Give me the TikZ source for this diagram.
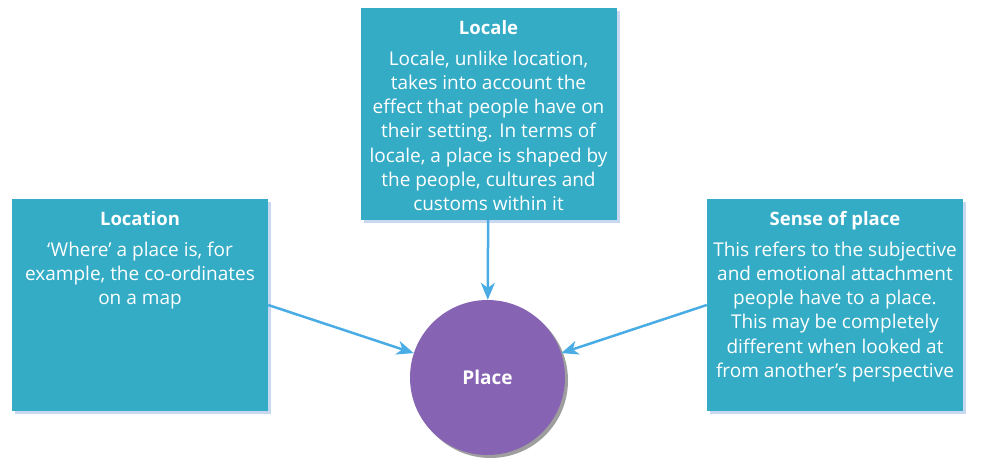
\documentclass[tikz,border=0pt]{standalone}
\usepackage{fontspec}
\setmainfont{Open Sans}
\usetikzlibrary{arrows.meta, positioning, shadows}
\usepackage{xcolor}

\definecolor{boxteal}{RGB}{53,172,198}
\definecolor{boxshade}{RGB}{200,216,240}
\definecolor{placepurple}{RGB}{135,99,180}
\definecolor{linkblue}{RGB}{74,172,228}

% title and body of one box, set from the top
\newcommand{\boxtext}[2]{\parbox[t][198pt][t]{244pt}{\centering
  \vspace*{5pt}{\fontsize{18.5}{24}\selectfont\bfseries #1\par}
  \vspace{7pt}\fontsize{19}{24.2}\selectfont #2}}

\tikzset{
  infobox/.style={fill=boxteal, text=white, inner xsep=6pt, inner ysep=6pt,
    minimum width=256pt, minimum height=212pt,
    drop shadow={shadow xshift=3pt, shadow yshift=-3pt, fill=boxshade, opacity=1}},
  placenode/.style={circle, fill=placepurple, text=white, minimum size=155pt,
    font=\fontsize{19}{22}\selectfont\bfseries,
    drop shadow={shadow xshift=3pt, shadow yshift=-3pt, fill=black!38, opacity=1}},
  link/.style={draw=linkblue, line width=2.5pt, -{Stealth[length=17pt, width=14pt, inset=5pt]}}
}

\begin{document}
\begin{tikzpicture}[x=1pt, y=1pt]
  \useasboundingbox (0,0) rectangle (987,471);

  \node[placenode] (place) at (487.5,93.5) {Place};

  \node[infobox] (locale) at (488.5,357) {\boxtext{Locale}{Locale, unlike location,\\
    takes into account the\\ effect that people have on\\ their setting. In terms of\\
    locale, a place is shaped by\\ the people, cultures and\\ customs within it}};

  \node[infobox] (location) at (140,166) {\boxtext{Location}{‘Where’ a place is, for\\
    example, the co-ordinates\\ on a map}};

  \node[infobox] (sense) at (835,166) {\boxtext{Sense of place}{This refers to the subjective\\
    and emotional attachment\\ people have to a place.\\ This may be completely\\
    different when looked at\\ from another’s perspective}};

  \draw[link] (locale) -- (place);
  \draw[link] (location.east) -- (place);
  \draw[link] (sense.west) -- (place);
\end{tikzpicture}
\end{document}
